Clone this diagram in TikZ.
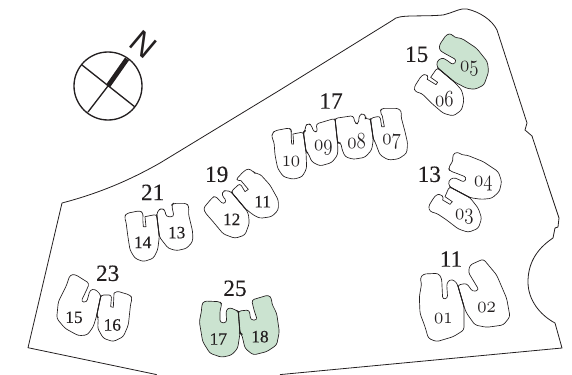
\documentclass[tikz,border=0pt]{standalone}
\usepackage{graphicx}
\usepackage{fontspec}
\newfontfamily\linfont[FakeBold=0.25]{Liberation Serif}
\newfontfamily\nfont{Liberation Sans}
\definecolor{unitgreen}{HTML}{CBE3D0}
\definecolor{ink}{HTML}{231F20}
\newcommand{\oldlab}[1]{\scalebox{.82}[1]{\fontsize{16.5}{16.5}\usefont{OML}{cmm}{m}{it}#1}}
\tikzset{
  unit/.style={draw=ink,line width=.5pt,rounded corners=2pt,line join=round},
  greenunit/.style={unit,fill=unitgreen},
  wall/.style={draw=ink,line width=.7pt},
  site/.style={draw=ink,line width=.6pt,line join=round},
  block/.style={text=ink,inner sep=0pt,font=\linfont\fontsize{17.5}{17.5}\selectfont},
  lab/.style={text=ink,inner sep=0pt,font=\linfont\fontsize{13}{13}\selectfont},
  old/.style={text=ink,inner sep=0pt},
  zoomed/.style={x=.25pt,y=-.25pt}
}
\begin{document}
\begin{tikzpicture}[x=.75pt,y=-.75pt]
\useasboundingbox (0,0) rectangle (572,375);
% site
\draw[site] (156.7,374.6) -- (28,347.7) -- (62,203) .. controls (100,193) and (130,180) .. (160,163) -- (280,90) -- (393,20) .. controls (398,14) and (420,17) .. (443,15) .. controls (455,12) and (460,8) .. (467,9) .. controls (480,12) and (492,20) .. (497,30) -- (527,123) -- (525,130) -- (532,136) -- (548,185) -- (559,218) -- (558,227) -- (555,228) -- (553,238) .. controls (535,250) and (528,265) .. (528,282) .. controls (528,300) and (540,315) .. (555,323) -- (562,348) -- (280,374.6);
% compass
\coordinate (cc) at (108,86);
\draw[ink,line width=1pt] (cc) circle[radius=34];
\coordinate (cne) at (127,59);
\coordinate (cnw) at (82,65);
\coordinate (cse) at (135,107);
\coordinate (csw) at (88,112);
\draw[ink,line width=1pt] (cnw) -- (cse) (cc) -- (csw);
\draw[ink,line width=3.6pt] (cc) -- (cne);
\node[text=ink,inner sep=0pt,rotate=-40,font=\nfont\fontsize{24}{24}\selectfont] (north) at (143,44.5) {N};
% 15 : 05 06
\begin{scope}[shift={(280,0)},zoomed]
\draw[greenunit] (478,135)--(500,103)--(515,101)--(522,112)--(545,115)--(590,145)--(622,185)--(626,215)--(612,255)--(585,268)--(560,265)--(522,245)--(472,203)--(470,185)--(485,173)--(497,178)--(520,195)--(530,180)--(490,158)--(478,150)--cycle;
\draw[unit] (402,262)--(425,226)--(438,222)--(446,232) [sharp corners]--(442,238)--(468,254)--(473,247)--(452,232) [rounded corners=2pt]--(472,203)--(522,245)--(545,270)--(552,300)--(545,330)--(520,348)--(490,340)--(455,310)--(425,280)--(405,275)--cycle;
\draw[wall] (472,203)--(522,245);
\node[old] (n05) at (568,207) {\oldlab{05}};
\node[old] (n06) at (493,297) {\oldlab{06}};
\node[block] (b15) at (410,163) {15};
\node[block] (b17) at (153,303) {17};
\end{scope}
% 17 : 10 09 08 07
\begin{scope}[shift={(265,100)},zoomed]
\draw[unit] (22,100)--(30,92)--(72,84)--(80,90)--(78,100) [sharp corners]--(80,132)--(86,132)--(84,102) [rounded corners=2pt]--(115,96)--(123,155)--(125,205)--(112,230)--(85,238)--(55,230)--(38,205)--(30,165)--(27,125)--(20,112)--cycle;
\draw[unit] (115,96)--(122,92)--(120,78)--(130,70)--(140,76)--(145,95)--(158,96)--(153,72)--(210,55)--(218,130)--(218,165)--(200,188)--(165,198)--(140,185)--(130,160)--(123,155)--cycle;
\draw[unit] (210,55)--(265,47)--(270,70)--(280,72)--(283,45)--(295,40)--(303,50)--(300,58)--(316,55)--(325,118)--(320,150)--(300,172)--(265,178)--(240,170)--(230,145)--(228,128)--(218,130)--cycle;
\draw[unit] (316,55)--(345,48) [sharp corners]--(350,80)--(358,80)--(352,48) [rounded corners=2pt]--(345,35)--(350,25)--(400,25)--(410,35)--(408,50)--(420,95)--(428,130)--(425,160)--(400,177)--(370,180)--(345,165)--(330,125)--(325,118)--cycle;
\draw[wall] (115,96)--(123,155) (210,55)--(218,130) (316,55)--(325,118);
\node[old] (n10) at (78,185) {\oldlab{10}};
\node[old] (n09) at (175,143) {\oldlab{09}};
\node[old] (n08) at (275,122) {\oldlab{08}};
\node[old] (n07) at (380,125) {\oldlab{07}};
\end{scope}
% 13 : 04 03
\begin{scope}[shift={(420,145)},zoomed]
\draw[unit] (85,70)--(100,45)--(97,30)--(112,20)--(125,30)--(140,30)--(190,50)--(235,80)--(245,110)--(238,140)--(215,160)--(185,163)--(150,158)--(88,125)--(85,108)--(100,97)--(115,103)--(133,112)--(140,97)--(110,85)--(90,78)--cycle;
\draw[unit] (88,125)--(150,158)--(175,190)--(185,220)--(175,250)--(145,262)--(115,252)--(80,225)--(50,205)--(30,200)--(25,185)--(40,160)--(50,148)--(62,148)--(72,158) [sharp corners]--(68,165)--(90,178)--(97,170)--(75,155) [rounded corners=2pt]--cycle;
\draw[wall] (88,125)--(150,158);
\node[old] (n04) at (190,115) {\oldlab{04}};
\node[old] (n03) at (133,215) {\oldlab{03}};
\node[block] (b13) at (28,88) {13};
\end{scope}
% 19 : 11 12
\begin{scope}[shift={(195,160)},zoomed]
\draw[unit] (122,60)--(145,35)--(160,25)--(175,35)--(180,40)--(195,42)--(225,75)--(250,120)--(250,150)--(230,170)--(195,175)--(175,165)--(150,145)--(108,95)--(135,70) [sharp corners]--(150,95)--(160,88)--(138,62) [rounded corners=2pt]--cycle;
\draw[unit] (108,95)--(150,145)--(160,160)--(163,190)--(150,225)--(120,235)--(85,222)--(50,180)--(32,160)--(25,145)--(50,115)--(60,107)--(70,118)--(85,133)--(95,123)--(80,105)--(85,92)--(95,92)--cycle;
\draw[wall] (108,95)--(150,145);
\node[lab] (n11) at (203,125) {11};
\node[lab] (n12) at (110,178) {12};
\node[block] (b19) at (65,43) {19};
\end{scope}
% 21, 23, 25
\begin{scope}[shift={(0,185)},zoomed]
\draw[unit] (373,95)--(380,85)--(420,77)--(430,85)--(428,98) [sharp corners]--(430,125)--(438,125)--(435,95) [rounded corners=2pt]--(470,88)--(478,155)--(473,195)--(460,220)--(430,230)--(405,220)--(390,195)--(383,150)--(378,110)--cycle;
\draw[unit] (470,88)--(475,75)--(485,70)--(495,75)--(498,95)--(522,95)--(515,60)--(520,55)--(560,55)--(567,65)--(565,85)--(578,140)--(578,170)--(560,190)--(530,197)--(505,190)--(485,165)--(478,155)--cycle;
\draw[wall] (470,88)--(478,155);
\node[lab] (n14) at (428,172) {14};
\node[lab] (n13) at (530,143) {13};
\node[block] (b21) at (458,22) {21};
\draw[unit] (203,290)--(210,270)--(225,268)--(268,295)--(262,310)--(243,350)--(260,352)--(270,315)--(285,312)--(303,330)--(290,392)--(280,425)--(262,450)--(235,452)--(195,430)--(170,400)--(175,350)--(200,300)--cycle;
\draw[unit] (303,330)--(335,330) [sharp corners]--(332,365)--(340,367)--(342,325) [rounded corners=2pt]--(350,318)--(390,330)--(397,340)--(392,355)--(385,420)--(370,455)--(340,470)--(310,460)--(293,430)--(295,398)--(290,392)--cycle;
\draw[wall] (303,330)--(290,392);
\node[lab] (n15) at (222,397) {15};
\node[lab] (n16) at (337,420) {16};
\node[block] (b23) at (323,265) {23};
\draw[greenunit] (605,360)--(612,348)--(660,350)--(666,358)--(660,375)--(660,413)--(680,413)--(678,375)--(690,367)--(705,375)--(715,378)--(720,445)--(713,490)--(695,510)--(665,517)--(630,505)--(608,470)--(598,410)--(605,375)--cycle;
\draw[greenunit] (715,378)--(748,375)--(752,405)--(772,405)--(762,375)--(755,345)--(805,330)--(815,340)--(815,355)--(830,385)--(838,440)--(830,480)--(800,500)--(760,510)--(735,490)--(725,447)--(720,445)--cycle;
\draw[wall] (715,378)--(720,445);
\node[lab] (n17) at (655,462) {17};
\node[lab] (n18) at (780,455) {18};
\node[block] (b25) at (705,310) {25};
\end{scope}
% 11 : 01 02
\begin{scope}[shift={(280,185)},zoomed]
\draw[unit] (420,280)--(430,267)--(475,265)--(485,280)--(488,343)--(503,340)--(500,295)--(510,283)--(525,287)--(533,300)--(552,365)--(552,435)--(520,455)--(470,470)--(445,460)--(435,425)--(420,385)--(418,335)--(425,295)--cycle;
\draw[unit] (533,300)--(560,295)--(578,320)--(597,315)--(565,262)--(570,240)--(610,222)--(625,240)--(650,270)--(680,340)--(690,395)--(670,420)--(620,427)--(585,420)--(560,385)--(552,365)--cycle;
\draw[wall] (533,300)--(552,365);
\node[old] (n01) at (490,400) {\oldlab{01}};
\node[old] (n02) at (620,368) {\oldlab{02}};
\node[block] (b11) at (513,222) {11};
\end{scope}
\end{tikzpicture}
\end{document}
